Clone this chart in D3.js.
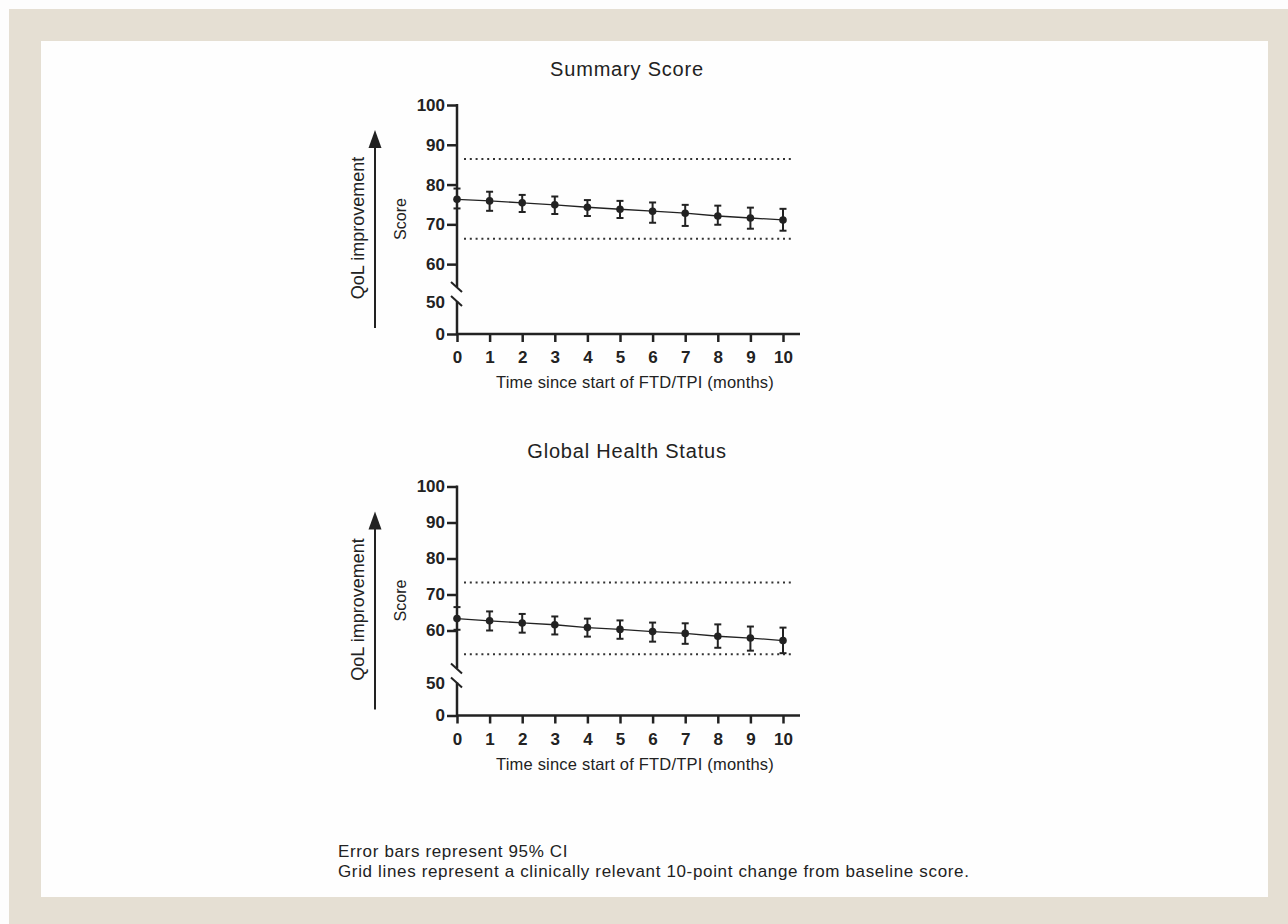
<!DOCTYPE html>
<html>
<head>
<meta charset="utf-8">
<script src="https://cdn.jsdelivr.net/npm/d3@7"></script>
<style>
  body { margin: 0; background: #fdfdfd; }
  svg { display: block; font-family: "Liberation Sans", Arial, sans-serif; }
</style>
</head>
<body>
<div id="chart"></div>
<script>
// data
const months = [0, 1, 2, 3, 4, 5, 6, 7, 8, 9, 10];

const summaryMean = [76.3, 75.9, 75.4, 74.9, 74.3, 73.8, 73.3, 72.8, 72.1, 71.6, 71.1];
const summaryLow  = [74.0, 73.4, 73.1, 72.6, 72.1, 71.6, 70.4, 69.6, 69.9, 68.9, 68.4];
const summaryHigh = [79.0, 78.2, 77.4, 77.0, 76.1, 75.9, 75.5, 74.9, 74.7, 74.2, 73.9];
const summaryRef  = [86.4, 66.4];

const globalMean = [63.3, 62.7, 62.1, 61.6, 60.8, 60.3, 59.7, 59.2, 58.4, 57.9, 57.2];
const globalLow  = [60.2, 60.0, 59.4, 58.9, 58.3, 57.7, 56.9, 56.3, 55.2, 54.4, 53.7];
const globalHigh = [66.5, 65.3, 64.6, 63.9, 63.3, 62.8, 62.2, 62.0, 61.7, 61.1, 60.8];
const globalRef  = [73.3, 53.4];

const upperTicks = [60, 70, 80, 90, 100];
const lowerTicks = [0, 50];
const xTitle = "Time since start of FTD/TPI (months)";
const notes = [
  "Error bars represent 95% CI",
  "Grid lines represent a clinically relevant 10-point change from baseline score."
];

const W = 1288, H = 924;
const ink = "#222";

const svg = d3.select("#chart").append("svg")
  .attr("width", W)
  .attr("height", H);

// beige frame + white panel
svg.append("rect").attr("x", 9).attr("y", 9).attr("width", W - 9).attr("height", H - 9).attr("fill", "#e5dfd3");
svg.append("rect").attr("x", 41).attr("y", 41).attr("width", 1268 - 41).attr("height", 897 - 41).attr("fill", "#fefefe");

const xScale = d3.scaleLinear().domain([0, 10]).range([457, 783]);

function drawPanel(cfg) {
  const g = svg.append("g").attr("transform", `translate(0,${cfg.offset})`);

  // upper (broken) segment and lower 0-50 segment
  const yUp = d3.scaleLinear().domain([cfg.breakAt, 100]).range([cfg.breakY, 105]);
  const yLow = d3.scaleLinear().domain([0, 50]).range([334, 302]);

  g.append("text")
    .attr("x", 627).attr("y", 76)
    .attr("text-anchor", "middle")
    .attr("font-size", 20)
    .attr("letter-spacing", 0.8)
    .attr("fill", ink)
    .text(cfg.title);

  // reference dotted lines
  g.selectAll(".ref")
    .data(cfg.ref)
    .join("line")
    .attr("class", "ref")
    .attr("x1", 464).attr("x2", 793)
    .attr("y1", d => yUp(d)).attr("y2", d => yUp(d))
    .attr("stroke", "#333")
    .attr("stroke-width", 2)
    .attr("stroke-dasharray", "2,3.8");

  // y axes
  const upAxis = d3.axisLeft(yUp).tickValues(upperTicks).tickSize(10).tickPadding(2);
  const upG = g.append("g").attr("transform", "translate(457,0)").call(upAxis);
  const lowAxis = d3.axisLeft(yLow).tickValues(lowerTicks).tickSize(10).tickPadding(2);
  const lowG = g.append("g").attr("transform", "translate(457,0)").call(lowAxis);
  lowG.selectAll(".tick").filter(d => d === 50).select("line").remove();

  [upG, lowG].forEach(ax => {
    ax.select(".domain").remove();
    ax.selectAll(".tick line").attr("stroke", ink).attr("stroke-width", 2.5);
    ax.selectAll(".tick text")
      .attr("font-size", 17)
      .attr("font-weight", "bold")
      .attr("font-family", "Liberation Sans, Arial, sans-serif")
      .attr("fill", ink);
  });

  // axis lines with break
  g.append("line").attr("x1", 457).attr("x2", 457).attr("y1", 104).attr("y2", 287)
    .attr("stroke", ink).attr("stroke-width", 2.5);
  g.append("line").attr("x1", 457).attr("x2", 457).attr("y1", 301).attr("y2", 335)
    .attr("stroke", ink).attr("stroke-width", 2.5);
  [287, 301].forEach(cy => {
    g.append("line")
      .attr("x1", 451).attr("y1", cy - 5)
      .attr("x2", 462).attr("y2", cy + 5)
      .attr("stroke", ink).attr("stroke-width", 2);
  });

  // x axis
  const xAxis = d3.axisBottom(xScale).tickValues(months).tickSize(8).tickPadding(9);
  const xG = g.append("g").attr("transform", "translate(0,334)").call(xAxis);
  xG.select(".domain").remove();
  xG.selectAll(".tick line").attr("stroke", ink).attr("stroke-width", 2.5);
  xG.selectAll(".tick text")
    .attr("font-size", 17)
    .attr("font-weight", "bold")
    .attr("font-family", "Liberation Sans, Arial, sans-serif")
    .attr("fill", ink);
  g.append("line").attr("x1", 456).attr("x2", 800).attr("y1", 334).attr("y2", 334)
    .attr("stroke", ink).attr("stroke-width", 2.5);

  g.append("text")
    .attr("x", 635).attr("y", 388)
    .attr("text-anchor", "middle")
    .attr("font-size", 16.5)
    .attr("letter-spacing", 0.2)
    .attr("fill", ink)
    .text(xTitle);

  // y labels
  g.append("text")
    .attr("transform", "translate(400,219) rotate(-90)")
    .attr("text-anchor", "middle")
    .attr("dominant-baseline", "central")
    .attr("font-size", 16)
    .attr("fill", ink)
    .text("Score");

  g.append("text")
    .attr("transform", "translate(358,228) rotate(-90)")
    .attr("text-anchor", "middle")
    .attr("dominant-baseline", "central")
    .attr("font-size", 18)
    .attr("fill", ink)
    .text("QoL improvement");

  // improvement arrow
  g.append("line").attr("x1", 375).attr("x2", 375).attr("y1", 328).attr("y2", 146)
    .attr("stroke", ink).attr("stroke-width", 2);
  g.append("path")
    .attr("d", "M368.5,148 L375,130 L381.5,148 Z")
    .attr("fill", ink);

  // data
  const rows = months.map((m, i) => ({m, mean: cfg.mean[i], lo: cfg.low[i], hi: cfg.high[i]}));

  g.append("path")
    .datum(rows)
    .attr("fill", "none")
    .attr("stroke", ink)
    .attr("stroke-width", 1.3)
    .attr("d", d3.line().x(d => xScale(d.m)).y(d => yUp(d.mean)));

  const bars = g.selectAll(".err").data(rows).join("g").attr("class", "err");
  bars.append("line")
    .attr("x1", d => xScale(d.m)).attr("x2", d => xScale(d.m))
    .attr("y1", d => yUp(d.lo)).attr("y2", d => yUp(d.hi))
    .attr("stroke", ink).attr("stroke-width", 2);
  bars.append("line")
    .attr("x1", d => xScale(d.m) - 3.5).attr("x2", d => xScale(d.m) + 3.5)
    .attr("y1", d => yUp(d.lo)).attr("y2", d => yUp(d.lo))
    .attr("stroke", ink).attr("stroke-width", 2);
  bars.append("line")
    .attr("x1", d => xScale(d.m) - 3.5).attr("x2", d => xScale(d.m) + 3.5)
    .attr("y1", d => yUp(d.hi)).attr("y2", d => yUp(d.hi))
    .attr("stroke", ink).attr("stroke-width", 2);
  bars.append("circle")
    .attr("cx", d => xScale(d.m))
    .attr("cy", d => yUp(d.mean))
    .attr("r", 3.8)
    .attr("fill", ink);
}

drawPanel({title: "Summary Score", offset: 0, breakAt: 54, breakY: 288,
  mean: summaryMean, low: summaryLow, high: summaryHigh, ref: summaryRef});
drawPanel({title: "Global Health Status", offset: 381.5, breakAt: 50, breakY: 285,
  mean: globalMean, low: globalLow, high: globalHigh, ref: globalRef});

// footnotes
svg.selectAll(".note")
  .data(notes)
  .join("text")
  .attr("class", "note")
  .attr("x", 338)
  .attr("y", (d, i) => 857 + i * 20)
  .attr("font-size", 17)
  .attr("letter-spacing", 0.65)
  .attr("fill", ink)
  .text(d => d);
</script>
</body>
</html>
